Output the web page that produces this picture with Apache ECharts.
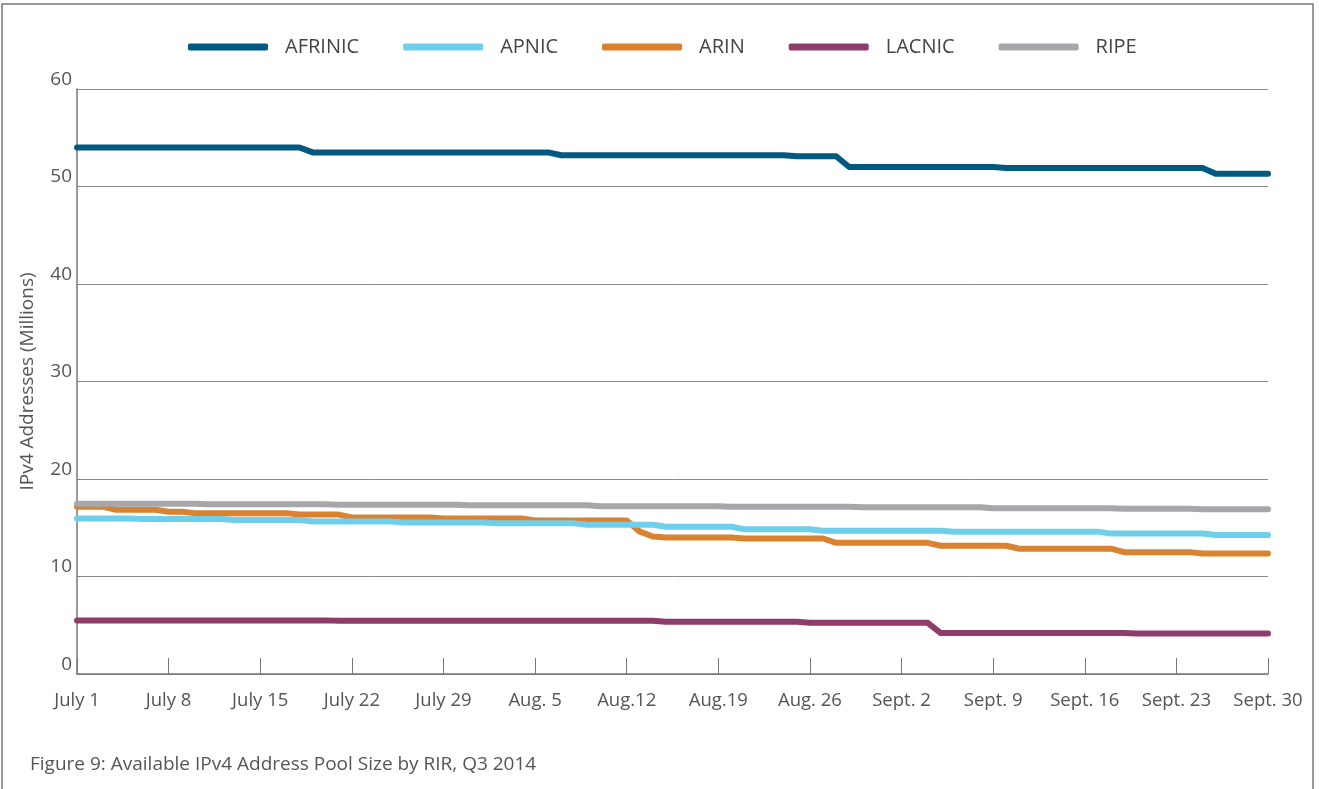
<!DOCTYPE html>
<html>
<head>
<meta charset="utf-8">
<script src="https://cdn.jsdelivr.net/npm/echarts@6/dist/echarts.min.js"></script>
<style>
body { margin: 0; background: #fff; }
#chart { width: 1319px; height: 789px; }
</style>
</head>
<body>
<div id="chart"></div>
<script>
// one value per day, July 1 (index 0) to Sept. 30 (index 91), rows are weeks
let tickLabels = ['July 1', 'July 8', 'July 15', 'July 22', 'July 29', 'Aug. 5', 'Aug.12',
    'Aug.19', 'Aug. 26', 'Sept. 2', 'Sept. 9', 'Sept. 16', 'Sept. 23', 'Sept. 30'];

let afrinic = [
    54, 54, 54, 54, 54, 54, 54,
    54, 54, 54, 54, 54, 54, 54,
    54, 54, 54, 54, 53.5, 53.5, 53.5,
    53.5, 53.5, 53.5, 53.5, 53.5, 53.5, 53.5,
    53.5, 53.5, 53.5, 53.5, 53.5, 53.5, 53.5,
    53.5, 53.5, 53.2, 53.2, 53.2, 53.2, 53.2,
    53.2, 53.2, 53.2, 53.2, 53.2, 53.2, 53.2,
    53.2, 53.2, 53.2, 53.2, 53.2, 53.2, 53.1,
    53.1, 53.1, 53.1, 52.0, 52.0, 52.0, 52.0,
    52.0, 52.0, 52.0, 52.0, 52.0, 52.0, 52.0,
    52.0, 51.9, 51.9, 51.9, 51.9, 51.9, 51.9,
    51.9, 51.9, 51.9, 51.9, 51.9, 51.9, 51.9,
    51.9, 51.9, 51.9, 51.3, 51.3, 51.3, 51.3,
    51.3
];
let apnic = [
    15.95, 15.95, 15.95, 15.95, 15.95, 15.9, 15.9,
    15.9, 15.9, 15.9, 15.9, 15.9, 15.8, 15.8,
    15.8, 15.8, 15.8, 15.8, 15.65, 15.65, 15.65,
    15.65, 15.65, 15.65, 15.65, 15.55, 15.55, 15.55,
    15.55, 15.55, 15.55, 15.55, 15.45, 15.45, 15.45,
    15.45, 15.45, 15.45, 15.45, 15.3, 15.3, 15.3,
    15.3, 15.3, 15.3, 15.1, 15.1, 15.1, 15.1,
    15.1, 15.1, 14.85, 14.85, 14.85, 14.85, 14.85,
    14.85, 14.7, 14.7, 14.7, 14.7, 14.7, 14.7,
    14.7, 14.7, 14.7, 14.7, 14.6, 14.6, 14.6,
    14.6, 14.6, 14.6, 14.6, 14.6, 14.6, 14.6,
    14.6, 14.6, 14.4, 14.4, 14.4, 14.4, 14.4,
    14.4, 14.4, 14.4, 14.25, 14.25, 14.25, 14.25,
    14.25
];
let arin = [
    17.15, 17.15, 17.15, 16.85, 16.85, 16.85, 16.85,
    16.65, 16.65, 16.5, 16.5, 16.5, 16.5, 16.5,
    16.5, 16.5, 16.5, 16.35, 16.35, 16.35, 16.35,
    16.05, 16.05, 16.05, 16.05, 16.05, 16.05, 16.05,
    15.95, 15.95, 15.95, 15.95, 15.95, 15.95, 15.95,
    15.75, 15.75, 15.75, 15.75, 15.75, 15.75, 15.75,
    15.75, 14.6, 14.1, 14.0, 14.0, 14.0, 14.0,
    14.0, 14.0, 13.9, 13.9, 13.9, 13.9, 13.9,
    13.9, 13.9, 13.45, 13.45, 13.45, 13.45, 13.45,
    13.45, 13.45, 13.45, 13.15, 13.15, 13.15, 13.15,
    13.15, 13.15, 12.85, 12.85, 12.85, 12.85, 12.85,
    12.85, 12.85, 12.85, 12.5, 12.5, 12.5, 12.5,
    12.5, 12.5, 12.35, 12.35, 12.35, 12.35, 12.35,
    12.35
];
let lacnic = [
    5.5, 5.5, 5.5, 5.5, 5.5, 5.5, 5.5,
    5.5, 5.5, 5.5, 5.5, 5.5, 5.5, 5.5,
    5.5, 5.5, 5.5, 5.5, 5.5, 5.5, 5.45,
    5.45, 5.45, 5.45, 5.45, 5.45, 5.45, 5.45,
    5.45, 5.45, 5.45, 5.45, 5.45, 5.45, 5.45,
    5.45, 5.45, 5.45, 5.45, 5.45, 5.45, 5.45,
    5.45, 5.45, 5.45, 5.35, 5.35, 5.35, 5.35,
    5.35, 5.35, 5.35, 5.35, 5.35, 5.35, 5.35,
    5.25, 5.25, 5.25, 5.25, 5.25, 5.25, 5.25,
    5.25, 5.25, 5.25, 4.2, 4.2, 4.2, 4.2,
    4.2, 4.2, 4.2, 4.2, 4.2, 4.2, 4.2,
    4.2, 4.2, 4.2, 4.2, 4.15, 4.15, 4.15,
    4.15, 4.15, 4.15, 4.15, 4.15, 4.15, 4.15,
    4.15
];
let ripe = [
    17.45, 17.45, 17.45, 17.45, 17.45, 17.45, 17.45,
    17.45, 17.45, 17.45, 17.4, 17.4, 17.4, 17.4,
    17.4, 17.4, 17.4, 17.4, 17.4, 17.4, 17.35,
    17.35, 17.35, 17.35, 17.35, 17.35, 17.35, 17.35,
    17.35, 17.35, 17.3, 17.3, 17.3, 17.3, 17.3,
    17.3, 17.3, 17.3, 17.3, 17.3, 17.2, 17.2,
    17.2, 17.2, 17.2, 17.2, 17.2, 17.2, 17.2,
    17.2, 17.15, 17.15, 17.15, 17.15, 17.15, 17.15,
    17.15, 17.15, 17.15, 17.15, 17.1, 17.1, 17.1,
    17.1, 17.1, 17.1, 17.1, 17.1, 17.1, 17.1,
    17.0, 17.0, 17.0, 17.0, 17.0, 17.0, 17.0,
    17.0, 17.0, 17.0, 16.95, 16.95, 16.95, 16.95,
    16.95, 16.95, 16.9, 16.9, 16.9, 16.9, 16.9,
    16.9
];

let font = '"Open Sans", Lato, sans-serif';
let textColor = '#555';

function pairs(arr) {
    return arr.map((v, i) => [i, v]);
}

function line(name, data, color, z) {
    return {
        name: name,
        type: 'line',
        data: pairs(data),
        z: z,
        showSymbol: false,
        symbol: 'none',
        lineStyle: { width: 6, color: color, cap: 'round', join: 'round' },
        itemStyle: { color: color }
    };
}

let myChart = echarts.init(document.getElementById('chart'));
let option = {
    backgroundColor: '#fff',
    animation: false,
    textStyle: { fontFamily: font },
    title: {
        text: 'Figure 9: Available IPv4 Address Pool Size by RIR, Q3 2014',
        left: 25,
        top: 750,
        textStyle: { fontFamily: font, fontSize: 19, fontWeight: 'normal', color: textColor }
    },
    legend: {
        top: 32,
        left: 183,
        icon: 'roundRect',
        itemWidth: 80,
        itemHeight: 7,
        itemGap: 44,
        textStyle: { fontFamily: font, fontSize: 20, color: '#444', padding: [0, 0, 0, 12] }
    },
    grid: {
        left: 77,
        right: 51,
        top: 89,
        bottom: 115
    },
    xAxis: {
        type: 'value',
        min: 0,
        max: 91,
        interval: 7,
        axisLine: { show: true, lineStyle: { color: '#777', width: 1.5 } },
        axisTick: { show: true, inside: true, length: 16, lineStyle: { color: '#777' } },
        splitLine: { show: false },
        axisLabel: {
            margin: 17,
            fontSize: 18.5,
            color: textColor,
            fontFamily: font,
            formatter: function (v) {
                return tickLabels[Math.round(v / 7)];
            }
        }
    },
    yAxis: {
        type: 'value',
        min: 0,
        max: 60,
        interval: 10,
        name: 'IPv4 Addresses (Millions)',
        nameLocation: 'middle',
        nameGap: 40,
        nameTextStyle: { fontSize: 19, color: textColor, fontFamily: font },
        axisLine: { show: true, lineStyle: { color: '#777', width: 1.5 } },
        axisTick: { show: false },
        splitLine: { lineStyle: { color: '#888', width: 1 } },
        axisLabel: {
            margin: 5,
            fontSize: 19,
            color: textColor,
            fontFamily: font,
            verticalAlign: 'bottom'
        }
    },
    graphic: [{
        type: 'polyline',
        silent: true,
        shape: { points: [[2, 789], [2, 4], [1313, 4], [1313, 789]] },
        style: { stroke: '#777', lineWidth: 1.5, fill: null }
    }],
    series: [
        line('AFRINIC', afrinic, '#005a80', 2),
        line('APNIC', apnic, '#6fcfeb', 4),
        line('ARIN', arin, '#d98230', 3),
        line('LACNIC', lacnic, '#8c3d6c', 2),
        line('RIPE', ripe, '#a6a7ab', 5)
    ]
};

myChart.setOption(option);
</script>
</body>
</html>
